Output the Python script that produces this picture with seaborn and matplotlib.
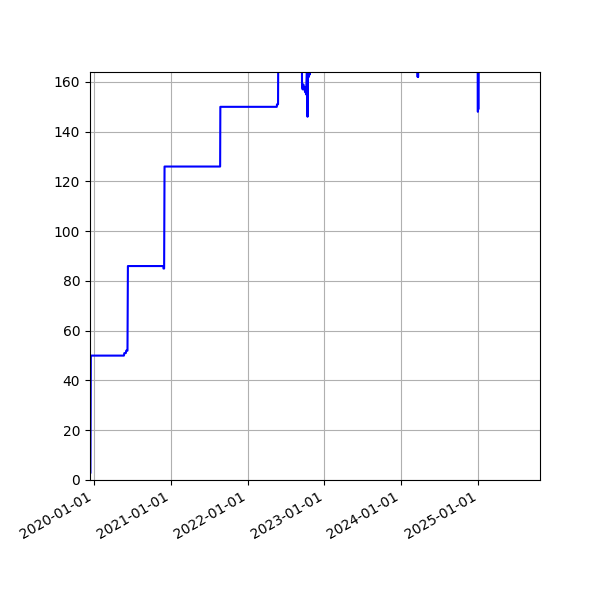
import pandas as pd
import matplotlib
matplotlib.use("Agg")
import matplotlib.pyplot as plt
import matplotlib.dates as mdates
import seaborn as sns

# cumulative count, one value per date
dates = [
    "2019-12-17", "2019-12-19", "2020-05-24", "2020-05-26", "2020-06-02",
    "2020-06-04", "2020-06-10", "2020-06-12", "2020-11-27", "2020-11-28",
    "2020-12-01", "2020-12-03", "2021-08-24", "2021-08-25", "2022-05-20",
    "2022-05-21", "2022-05-26", "2022-05-27", "2022-09-16", "2022-09-17",
    "2022-09-20", "2022-09-23", "2022-09-26", "2022-09-29", "2022-10-01",
    "2022-10-04", "2022-10-06", "2022-10-08", "2022-10-12", "2022-10-13",
    "2022-10-14", "2022-10-19", "2022-10-21", "2022-10-24", "2022-10-26",
    "2024-03-18", "2024-03-19", "2024-03-20", "2024-03-21", "2024-03-22",
    "2024-12-29", "2024-12-30", "2024-12-31", "2025-01-01", "2025-01-02",
    "2025-10-21",
]
values = [
    3, 50, 50, 51, 51,
    52, 52, 86, 86, 85,
    85, 126, 126, 150, 150,
    151, 151, 172, 172, 158,
    157, 159, 157, 158, 156,
    157, 155, 160, 172, 146,
    172, 162, 172, 163, 172,
    172, 162, 172, 162, 172,
    172, 148, 172, 149, 172,
    175,
]

df = pd.DataFrame({"date": pd.to_datetime(dates), "count": values})

fig, ax = plt.subplots(figsize=(6, 6), dpi=100)
sns.lineplot(data=df, x="date", y="count", color="blue", linewidth=1.5,
             estimator=None, sort=False, ax=ax)

ax.set_xlim(pd.Timestamp("2019-12-15"), pd.Timestamp("2025-10-21"))
ax.set_ylim(0, 164)
ax.xaxis.set_major_locator(mdates.YearLocator())
ax.xaxis.set_major_formatter(mdates.DateFormatter("%Y-%m-%d"))
ax.set_xlabel("")
ax.set_ylabel("")
ax.grid(True)
fig.autofmt_xdate()
fig.subplots_adjust(left=0.15, right=0.9, top=0.88, bottom=0.2)

fig.savefig("out.png", dpi=100)
